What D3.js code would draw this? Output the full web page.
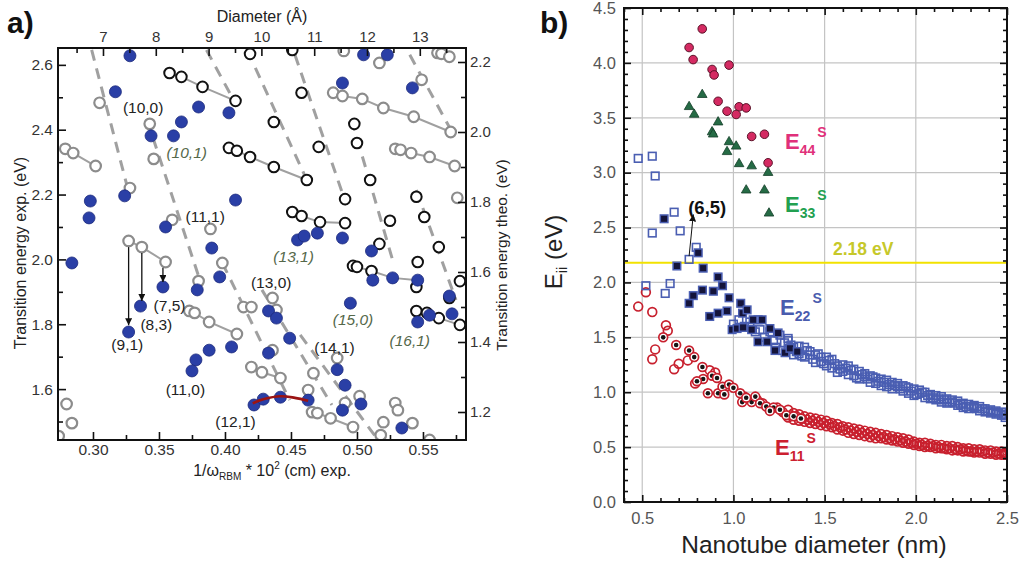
<!DOCTYPE html>
<html><head><meta charset="utf-8">
<script src="https://cdn.jsdelivr.net/npm/d3@7"></script>
<style>body{margin:0;background:#fff}</style>
</head><body><svg id="c" width="1022" height="565"></svg>
<script>
// ---------------- PANEL A DATA (x = 1/wRBM*1e2 cm, y = exp. energy eV) ----------------
const aXTicks = [0.30,0.35,0.40,0.45,0.50,0.55];
const aXMinor = [0.325,0.375,0.425,0.475,0.525,0.575];
const aYTicks = [1.6,1.8,2.0,2.2,2.4,2.6];
const aYMinor = [1.5,1.7,1.9,2.1,2.3,2.5];
const aTheoTicks = [1.2,1.4,1.6,1.8,2.0,2.2];
const aTheoMinor = [1.3,1.5,1.7,1.9,2.1];
const aDiamTicks = [7,8,9,10,11,12,13];
const aDiamMinor = [6.5,7.5,8.5,9.5,10.5,11.5,12.5,13.5];

const aBlue = [[0.328,2.628],[0.317,2.517],[0.380,2.470],[0.367,2.424],[0.344,2.381],[0.361,2.381],[0.403,2.452],[0.298,2.180],[0.297,2.128],[0.324,2.196],[0.408,2.183],[0.355,2.100],[0.390,2.035],[0.505,2.631],[0.523,2.631],[0.489,2.544],[0.542,2.529],[0.455,2.060],[0.460,2.072],[0.470,2.081],[0.489,2.066],[0.511,2.026],[0.284,1.989],[0.327,1.776],[0.336,1.856],[0.353,1.915],[0.379,1.906],[0.396,1.946],[0.378,1.690],[0.375,1.656],[0.388,1.720],[0.405,1.730],[0.422,1.551],[0.512,1.936],[0.527,1.943],[0.546,1.936],[0.495,1.865],[0.433,1.841],[0.439,1.819],[0.449,1.757],[0.433,1.711],[0.485,1.660],[0.491,1.612],[0.489,1.535],[0.503,1.554],[0.546,1.807],[0.555,1.828],[0.570,1.887],[0.572,1.832],[0.534,1.480],[0.429,1.569],[0.442,1.575],[0.463,1.566]];
const aGray = [[0.305,2.483],[0.279,2.341],[0.285,2.328],[0.302,2.288],[0.343,2.418],[0.346,2.310],[0.328,2.220],[0.360,2.122],[0.389,2.094],[0.327,2.057],[0.337,2.038],[0.490,2.643],[0.517,2.606],[0.561,2.637],[0.564,2.634],[0.570,2.625],[0.549,2.554],[0.482,2.514],[0.489,2.504],[0.504,2.495],[0.520,2.467],[0.543,2.440],[0.571,2.393],[0.529,2.341],[0.533,2.338],[0.541,2.328],[0.555,2.316],[0.574,2.288],[0.576,2.190],[0.355,1.992],[0.380,1.933],[0.398,1.989],[0.414,1.853],[0.373,1.841],[0.377,1.835],[0.388,1.807],[0.409,1.770],[0.420,1.668],[0.428,1.652],[0.280,1.554],[0.284,1.495],[0.274,1.455],[0.436,1.881],[0.439,1.844],[0.420,1.853],[0.436,1.720],[0.442,1.634],[0.467,1.649],[0.485,1.696],[0.463,1.597],[0.466,1.529],[0.470,1.526],[0.480,1.510],[0.497,1.483],[0.491,1.557],[0.502,1.578],[0.529,1.557],[0.531,1.535],[0.520,1.498],[0.542,1.495],[0.518,1.458],[0.555,1.443]];
const aBlack = [[0.419,2.634],[0.358,2.575],[0.367,2.563],[0.383,2.532],[0.408,2.489],[0.403,2.344],[0.409,2.335],[0.419,2.316],[0.451,2.646],[0.458,2.514],[0.437,2.424],[0.498,2.418],[0.500,2.359],[0.471,2.347],[0.437,2.285],[0.462,2.245],[0.510,2.245],[0.491,2.186],[0.545,2.193],[0.451,2.146],[0.458,2.134],[0.472,2.115],[0.491,2.112],[0.525,2.119],[0.551,2.131],[0.517,2.048],[0.562,2.038],[0.497,1.980],[0.500,1.977],[0.511,1.964],[0.546,1.992],[0.545,1.915],[0.578,1.933],[0.545,1.841],[0.553,1.835],[0.562,1.819],[0.570,1.881],[0.578,1.798]];
const aDashed = [
  [[0.299,2.646],[0.327,2.208]],
  [[0.341,2.430],[0.381,1.936]],
  [[0.386,2.646],[0.408,2.480]],
  [[0.423,2.591],[0.462,2.245]],
  [[0.453,2.631],[0.492,2.168]],
  [[0.496,2.430],[0.527,1.998]],
  [[0.540,2.631],[0.572,2.393]],
  [[0.545,2.214],[0.575,1.875]],
  [[0.398,1.989],[0.449,1.566]],
  [[0.428,1.906],[0.481,1.551]],
  [[0.457,1.767],[0.516,1.443]]
];
const aChains = [
  [[0.279,2.341],[0.285,2.328],[0.302,2.288]],
  [[0.327,2.057],[0.337,2.038],[0.355,1.992]],
  [[0.373,1.841],[0.377,1.835],[0.388,1.807],[0.409,1.770]],
  [[0.403,2.344],[0.409,2.335],[0.419,2.316],[0.437,2.285],[0.462,2.245]],
  [[0.358,2.575],[0.367,2.563],[0.383,2.532],[0.408,2.489]],
  [[0.482,2.514],[0.489,2.504],[0.504,2.495],[0.520,2.467],[0.543,2.440],[0.571,2.393]],
  [[0.529,2.341],[0.533,2.338],[0.541,2.328],[0.555,2.316],[0.574,2.288]],
  [[0.451,2.146],[0.458,2.134],[0.472,2.115],[0.491,2.112]],
  [[0.497,1.980],[0.500,1.977],[0.511,1.964],[0.527,1.943],[0.546,1.936]],
  [[0.545,1.841],[0.553,1.835],[0.562,1.819],[0.578,1.798]],
  [[0.420,1.668],[0.428,1.652],[0.442,1.634]],
  [[0.466,1.529],[0.470,1.526],[0.480,1.510],[0.497,1.483]],
  [[0.561,2.637],[0.564,2.634],[0.570,2.625]]
];
const aRedLine = [[0.421,1.556],[0.429,1.569],[0.442,1.578],[0.453,1.573],[0.463,1.564]];
const aArrows = [
  [[0.327,2.038],[0.327,1.797]],
  [[0.337,2.020],[0.337,1.872]],
  [[0.353,1.974],[0.353,1.930]]
];
const aLabels = [
  {t:"(10,0)",x:0.338,y:2.467,it:false},
  {t:"(10,1)",x:0.371,y:2.328,it:true},
  {t:"(11,1)",x:0.385,y:2.131,it:false},
  {t:"(7,5)",x:0.358,y:1.859,it:false},
  {t:"(8,3)",x:0.348,y:1.798,it:false},
  {t:"(9,1)",x:0.326,y:1.736,it:false},
  {t:"(11,0)",x:0.370,y:1.597,it:false},
  {t:"(12,1)",x:0.408,y:1.501,it:false},
  {t:"(13,0)",x:0.435,y:1.927,it:false},
  {t:"(13,1)",x:0.452,y:2.010,it:true},
  {t:"(14,1)",x:0.483,y:1.727,it:false},
  {t:"(15,0)",x:0.497,y:1.813,it:true},
  {t:"(16,1)",x:0.540,y:1.751,it:true}
];

// ---------------- PANEL B DATA (x = diameter nm, y = Eii eV) ----------------
const bXTicks = [0.5,1.0,1.5,2.0,2.5];
const bYTicks = [0.0,0.5,1.0,1.5,2.0,2.5,3.0,3.5,4.0,4.5];
const bGridX = [0.5,1.0,1.5,2.0];
const bGridY = [0.5,1.0,1.5,2.0,2.5,3.0,3.5,4.0];
const bLaserLine = 2.18;

const bE44 = [[0.757,4.14],[0.829,4.31],[0.779,4.03],[0.883,3.94],[0.894,3.89],[0.976,3.98],[0.916,3.65],[0.965,3.56],[1.031,3.60],[1.07,3.59],[1.015,3.53],[1.10,3.33],[1.17,3.35],[1.19,3.09]];
const bE33 = [[0.757,3.60],[0.785,3.53],[0.829,3.71],[0.883,3.37],[0.889,3.35],[0.916,3.46],[0.976,3.28],[0.965,3.19],[1.015,3.24],[1.031,3.08],[1.10,3.06],[1.07,2.84],[1.17,2.84],[1.19,3.00],[1.195,2.63]];
const bE22Exp = [[0.62,2.58],[0.807,2.27],[0.69,2.15],[0.834,2.13],[0.757,1.81],[0.78,1.88],[0.83,1.93],[0.916,2.05],[0.94,1.97],[0.89,1.92],[0.976,1.86],[1.04,1.81],[1.05,1.72],[1.075,1.75],[0.87,1.69],[0.916,1.72],[0.965,1.74],[0.993,1.57],[1.02,1.58],[1.053,1.59],[1.10,1.57],[1.108,1.66],[1.157,1.66],[1.135,1.46],[1.185,1.46],[1.20,1.58],[1.245,1.54],[1.228,1.38],[1.283,1.36],[1.31,1.40],[1.35,1.37]];
const bE22Open = [[0.478,3.13],[0.555,3.15],[0.571,2.97],[0.675,2.64],[0.555,2.45],[0.708,2.47],[0.796,2.32],[0.757,2.21],[0.52,1.97],[0.626,1.90],[0.653,1.99],
  [1.00,1.62],[1.03,1.66],[1.06,1.60],[1.09,1.64],[1.12,1.55],[1.146,1.57],[1.135,1.66],[1.17,1.50],[1.20,1.55],[1.22,1.47],[1.23,1.41],[1.255,1.52],[1.27,1.38],[1.28,1.45],[1.30,1.49],
  [1.30,1.47],[1.30,1.39],[1.33,1.41],[1.33,1.34],[1.36,1.42],[1.36,1.35],[1.39,1.41],[1.39,1.32],[1.42,1.34],[1.42,1.37],[1.45,1.27],[1.45,1.34],[1.48,1.32],[1.48,1.28],[1.51,1.24],[1.51,1.32],[1.54,1.30],[1.54,1.22],[1.57,1.24],[1.57,1.18],[1.60,1.25],[1.60,1.19],[1.63,1.16],[1.63,1.24],[1.66,1.21],[1.66,1.15],[1.69,1.19],[1.69,1.12],[1.72,1.14],[1.72,1.17],[1.75,1.09],[1.75,1.15],[1.78,1.13],[1.78,1.08],[1.81,1.06],[1.81,1.12],[1.84,1.11],[1.84,1.05],[1.87,1.09],[1.87,1.03],[1.90,1.05],[1.90,1.08],[1.93,1.01],[1.93,1.06],[1.96,1.04],[1.96,0.99],[1.99,1.03],[1.99,0.97],[2.02,0.99],[2.02,1.02],[2.05,0.95],[2.05,1.00],[2.08,0.98],[2.08,0.94],[2.11,0.93],[2.11,0.97],[2.14,0.96],[2.14,0.91],[2.17,0.94],[2.17,0.90],[2.20,0.91],[2.20,0.93],[2.23,0.88],[2.23,0.92],[2.26,0.90],[2.26,0.86],[2.29,0.89],[2.29,0.85],[2.32,0.86],[2.32,0.88],[2.35,0.83],[2.35,0.87],[2.38,0.85],[2.38,0.82],[2.41,0.81],[2.41,0.84],[2.44,0.83],[2.44,0.80],[2.47,0.79],[2.47,0.82],[2.49,0.80],[2.49,0.77],
  [1.315,1.43],[1.345,1.37],[1.375,1.33],[1.405,1.38],[1.435,1.30],[1.465,1.35],[1.495,1.26],[1.525,1.29],[1.555,1.26],[1.585,1.21],[1.615,1.22],[1.645,1.20],[1.675,1.13],[1.705,1.16],[1.735,1.12],[1.765,1.14],[1.795,1.10],[1.825,1.09],[1.855,1.07],[1.885,1.06],[1.915,1.03],[1.945,1.05],[1.975,1.01],[2.005,0.98],[2.035,1.00],[2.065,0.97],[2.095,0.95],[2.125,0.94],[2.155,0.93],[2.185,0.91],[2.215,0.90],[2.245,0.89],[2.275,0.87],[2.305,0.87],[2.335,0.85],[2.365,0.85],[2.395,0.83],[2.425,0.82],[2.455,0.81],[2.485,0.79]];
const bE11Exp = [[0.615,1.50],[0.686,1.43],[0.757,1.38],[0.785,1.32],[0.83,1.23],[0.834,1.12],[0.883,1.15],[0.91,1.13],[0.86,0.99],[0.916,0.99],[0.94,1.05],[0.976,1.07],[1.0,1.04],[1.037,0.99],[1.048,0.91],[1.10,0.91],[1.12,0.96],[1.146,0.90],[1.18,0.87],[1.22,0.86],[1.255,0.84],[1.29,0.79],[0.80,1.10],[0.95,0.98],[1.07,0.95],[1.20,0.83],[1.33,0.78],[1.37,0.76]];
const bE11Open = [[0.478,1.78],[0.52,1.91],[0.555,1.73],[0.571,1.39],[0.555,1.30],[0.63,1.61],[0.64,1.56],[0.675,1.21],[0.70,1.26],[0.75,1.29],[0.79,1.08],[0.87,1.20],[0.90,1.18],[0.96,1.05],[1.06,0.96],[1.13,0.93],[1.16,0.90],[1.24,0.86],[1.27,0.82],
  [1.30,0.84],[1.30,0.77],[1.33,0.81],[1.33,0.75],[1.36,0.80],[1.36,0.74],[1.39,0.78],[1.39,0.73],[1.42,0.77],[1.42,0.72],[1.45,0.76],[1.45,0.71],[1.48,0.75],[1.48,0.70],[1.51,0.74],[1.51,0.69],[1.54,0.72],[1.54,0.68],[1.57,0.71],[1.57,0.66],[1.60,0.69],[1.60,0.65],[1.63,0.68],[1.63,0.63],[1.66,0.67],[1.66,0.62],[1.69,0.66],[1.69,0.61],[1.72,0.65],[1.72,0.60],[1.75,0.64],[1.75,0.59],[1.78,0.63],[1.78,0.58],[1.81,0.62],[1.81,0.58],[1.84,0.61],[1.84,0.57],[1.87,0.60],[1.87,0.56],[1.90,0.59],[1.90,0.55],[1.93,0.58],[1.93,0.54],[1.96,0.57],[1.96,0.53],[1.99,0.55],[1.99,0.52],[2.02,0.54],[2.02,0.51],[2.05,0.54],[2.05,0.50],[2.08,0.53],[2.08,0.50],[2.11,0.52],[2.11,0.49],[2.14,0.52],[2.14,0.49],[2.17,0.51],[2.17,0.48],[2.20,0.51],[2.20,0.47],[2.23,0.50],[2.23,0.47],[2.26,0.49],[2.26,0.46],[2.29,0.49],[2.29,0.46],[2.32,0.48],[2.32,0.45],[2.35,0.48],[2.35,0.45],[2.38,0.47],[2.38,0.44],[2.41,0.47],[2.41,0.44],[2.44,0.46],[2.44,0.43],[2.47,0.46],[2.47,0.43],[2.49,0.45],[2.49,0.43],
  [1.315,0.79],[1.345,0.78],[1.375,0.76],[1.405,0.75],[1.435,0.74],[1.465,0.73],[1.495,0.72],[1.525,0.71],[1.555,0.69],[1.585,0.68],[1.615,0.66],[1.645,0.65],[1.675,0.64],[1.705,0.63],[1.735,0.62],[1.765,0.61],[1.795,0.60],[1.825,0.59],[1.855,0.58],[1.885,0.57],[1.915,0.56],[1.945,0.55],[1.975,0.54],[2.005,0.53],[2.035,0.52],[2.065,0.51],[2.095,0.51],[2.125,0.50],[2.155,0.49],[2.185,0.49],[2.215,0.48],[2.245,0.48],[2.275,0.47],[2.305,0.46],[2.335,0.46],[2.365,0.46],[2.395,0.45],[2.425,0.45],[2.455,0.44],[2.485,0.44]];
const bArrow = [[0.757,2.24],[0.78,2.62]];

// ---------------- DRAW ----------------
const FONT = "Liberation Sans, Arial, Helvetica, sans-serif";
const svg = d3.select("#c");
svg.append("rect").attr("width",1022).attr("height",565).attr("fill","#fff");
const defs = svg.append("defs");
defs.append("clipPath").attr("id","clipA").append("rect").attr("x",58).attr("y",48).attr("width",408).attr("height",392);
defs.append("clipPath").attr("id","clipB").append("rect").attr("x",624).attr("y",8).attr("width",383).attr("height",494);
defs.append("marker").attr("id","arr").attr("viewBox","0 0 10 10").attr("refX",10).attr("refY",5)
  .attr("markerWidth",7).attr("markerHeight",7).attr("markerUnits","userSpaceOnUse").attr("orient","auto")
  .append("path").attr("d","M0,0 L10,5 L0,10 z").attr("fill","#111");

// ===== Panel A =====
const xa = d3.scaleLinear().domain([0.2735,0.5826]).range([58,466]);
const ya = d3.scaleLinear().domain([1.443,2.652]).range([440,48]);
const yTheo = d3.scaleLinear().domain([1.12,2.24]).range([440,48]);
const xDiam = d3.scaleLinear().domain([6.148,13.875]).range([58,466]);

const ga = svg.append("g");
const pa = ga.append("g").attr("clip-path","url(#clipA)");
pa.selectAll(".dl").data(aDashed).join("line")
  .attr("x1",d=>xa(d[0][0])).attr("y1",d=>ya(d[0][1])).attr("x2",d=>xa(d[1][0])).attr("y2",d=>ya(d[1][1]))
  .attr("stroke","#a0a0a0").attr("stroke-width",3).attr("stroke-dasharray","11,8");
const lineA = d3.line().x(d=>xa(d[0])).y(d=>ya(d[1]));
pa.selectAll(".ch").data(aChains).join("path").attr("d",lineA).attr("fill","none").attr("stroke","#a0a0a0").attr("stroke-width",2);
pa.selectAll(".gc").data(aGray).join("circle").attr("cx",d=>xa(d[0])).attr("cy",d=>ya(d[1])).attr("r",5.3)
  .attr("fill","#fff").attr("stroke","#8c8c8c").attr("stroke-width",2.2);
pa.selectAll(".bc").data(aBlack).join("circle").attr("cx",d=>xa(d[0])).attr("cy",d=>ya(d[1])).attr("r",5.3)
  .attr("fill","#fff").attr("stroke","#111").attr("stroke-width",2);
pa.selectAll(".bl").data(aBlue).join("circle").attr("cx",d=>xa(d[0])).attr("cy",d=>ya(d[1])).attr("r",6)
  .attr("fill","#2a3fa6").attr("stroke","#1c2a7c").attr("stroke-width",0.8);
pa.append("path").datum(aRedLine).attr("d",d3.line().x(d=>xa(d[0])).y(d=>ya(d[1])).curve(d3.curveCardinal))
  .attr("fill","none").attr("stroke","#9b1414").attr("stroke-width",2.6);
ga.selectAll(".ar").data(aArrows).join("line")
  .attr("x1",d=>xa(d[0][0])).attr("y1",d=>ya(d[0][1])).attr("x2",d=>xa(d[1][0])).attr("y2",d=>ya(d[1][1]))
  .attr("stroke","#111").attr("stroke-width",1.3).attr("marker-end","url(#arr)");
ga.selectAll(".lb").data(aLabels).join("text").attr("x",d=>xa(d.x)).attr("y",d=>ya(d.y)).attr("dy","0.35em")
  .attr("text-anchor","middle").attr("font-family",FONT).attr("font-size",15.5)
  .attr("font-style",d=>d.it?"italic":"normal").attr("fill",d=>d.it?"#55684a":"#222").text(d=>d.t);

function styleAx(g, fs, col){
  g.select(".domain").remove();
  g.selectAll(".tick line").attr("stroke","#111").attr("stroke-width",1.6);
  g.selectAll("text").attr("font-family",FONT).attr("font-size",fs).attr("fill",col);
}
const fmt1 = d3.format(".1f"), fmt2 = d3.format(".2f");
ga.append("g").attr("transform","translate(58,0)").call(d3.axisLeft(ya).tickValues(aYTicks).tickSize(-8).tickPadding(5).tickFormat(fmt1)).call(g=>styleAx(g,15.5,"#333"));
ga.append("g").attr("transform","translate(58,0)").call(d3.axisLeft(ya).tickValues(aYMinor).tickSize(-5).tickFormat("")).call(g=>styleAx(g,15,"#333"));
ga.append("g").attr("transform","translate(466,0)").call(d3.axisRight(yTheo).tickValues(aTheoTicks).tickSize(-8).tickPadding(4).tickFormat(fmt1)).call(g=>styleAx(g,15,"#333"));
ga.append("g").attr("transform","translate(466,0)").call(d3.axisRight(yTheo).tickValues(aTheoMinor).tickSize(-5).tickFormat("")).call(g=>styleAx(g,15,"#333"));
ga.append("g").attr("transform","translate(0,440)").call(d3.axisBottom(xa).tickValues(aXTicks).tickSize(-8).tickPadding(4).tickFormat(fmt2)).call(g=>styleAx(g,15.5,"#333"));
ga.append("g").attr("transform","translate(0,440)").call(d3.axisBottom(xa).tickValues(aXMinor).tickSize(-5).tickFormat("")).call(g=>styleAx(g,15,"#333"));
ga.append("g").attr("transform","translate(0,48)").call(d3.axisTop(xDiam).tickValues(aDiamTicks).tickSize(-8).tickPadding(6).tickFormat(d3.format("d"))).call(g=>styleAx(g,15,"#333"));
ga.append("g").attr("transform","translate(0,48)").call(d3.axisTop(xDiam).tickValues(aDiamMinor).tickSize(-5).tickFormat("")).call(g=>styleAx(g,15,"#333"));
ga.append("rect").attr("x",58).attr("y",48).attr("width",408).attr("height",392).attr("fill","none").attr("stroke","#111").attr("stroke-width",2);

ga.append("text").attr("x",262).attr("y",22).attr("text-anchor","middle").attr("font-family",FONT).attr("font-size",16).attr("fill","#222").text("Diameter (Å)");
const bt = ga.append("text").attr("x",272).attr("y",476).attr("text-anchor","middle").attr("font-family",FONT).attr("font-size",16).attr("fill","#222");
bt.append("tspan").text("1/ω");
bt.append("tspan").attr("font-size",10).attr("dy",4).text("RBM");
bt.append("tspan").attr("dy",-4).text(" * 10");
bt.append("tspan").attr("font-size",10).attr("dy",-7).text("2");
bt.append("tspan").attr("dy",7).text(" (cm) exp.");
ga.append("text").attr("transform","translate(26,253) rotate(-90)").attr("text-anchor","middle").attr("font-family",FONT).attr("font-size",16).attr("fill","#222").text("Transition energy exp. (eV)");
ga.append("text").attr("transform","translate(507,255) rotate(-90)").attr("text-anchor","middle").attr("font-family",FONT).attr("font-size",15.5).attr("fill","#222").text("Transition energy theo. (eV)");
ga.append("text").attr("x",7).attr("y",33).attr("font-family",FONT).attr("font-size",30).attr("font-weight","bold").attr("fill","#111").text("a)");

// ===== Panel B =====
const xb = d3.scaleLinear().domain([0.4,2.5]).range([624,1007]);
const yb = d3.scaleLinear().domain([0,4.5]).range([502,8]);
const gb = svg.append("g");
gb.selectAll(".gx").data(bGridX).join("line").attr("x1",d=>xb(d)).attr("x2",d=>xb(d)).attr("y1",8).attr("y2",502).attr("stroke","#c4c4c4").attr("stroke-width",1.2);
gb.selectAll(".gy").data(bGridY).join("line").attr("y1",d=>yb(d)).attr("y2",d=>yb(d)).attr("x1",624).attr("x2",1007).attr("stroke","#c4c4c4").attr("stroke-width",1.2);
gb.append("line").attr("x1",624).attr("x2",1007).attr("y1",yb(bLaserLine)).attr("y2",yb(bLaserLine)).attr("stroke","#f2e200").attr("stroke-width",2);
const pb = gb.append("g").attr("clip-path","url(#clipB)");
pb.selectAll(".e11o").data(bE11Open).join("circle").attr("cx",d=>xb(d[0])).attr("cy",d=>yb(d[1])).attr("r",4.4)
  .attr("fill","none").attr("stroke","#c8202e").attr("stroke-width",1.7);
const e11e = pb.selectAll(".e11e").data(bE11Exp).join("g").attr("transform",d=>`translate(${xb(d[0])},${yb(d[1])})`);
e11e.append("circle").attr("r",4.4).attr("fill","#fff").attr("stroke","#c8202e").attr("stroke-width",1.7);
e11e.append("circle").attr("r",2.3).attr("fill","#151515");
pb.selectAll(".e22o").data(bE22Open).join("rect").attr("x",d=>xb(d[0])-3.8).attr("y",d=>yb(d[1])-3.8).attr("width",7.6).attr("height",7.6)
  .attr("fill","none").attr("stroke","#4a5eb2").attr("stroke-width",1.6);
pb.selectAll(".e22e").data(bE22Exp).join("rect").attr("x",d=>xb(d[0])-3.8).attr("y",d=>yb(d[1])-3.8).attr("width",7.6).attr("height",7.6)
  .attr("fill","#14143a").attr("stroke","#4a5eb2").attr("stroke-width",1.5);
pb.selectAll(".e33").data(bE33).join("path").attr("d",d3.symbol(d3.symbolTriangle,40)).attr("transform",d=>`translate(${xb(d[0])},${yb(d[1])})`)
  .attr("fill","#256b45").attr("stroke","#143d28").attr("stroke-width",0.8);
pb.selectAll(".e44").data(bE44).join("circle").attr("cx",d=>xb(d[0])).attr("cy",d=>yb(d[1])).attr("r",4.3)
  .attr("fill","#d42a62").attr("stroke","#5a1228").attr("stroke-width",1);
gb.append("line").datum(bArrow).attr("x1",d=>xb(d[0][0])).attr("y1",d=>yb(d[0][1])).attr("x2",d=>xb(d[1][0])).attr("y2",d=>yb(d[1][1]))
  .attr("stroke","#111").attr("stroke-width",1).attr("marker-end","url(#arr)");

const bXMinor = d3.range(4,26).map(v=>v/10).filter(v=>Math.abs(v*2-Math.round(v*2))>1e-6);
const bYMinor = d3.range(0,46).map(v=>v/10).filter(v=>Math.abs(v*2-Math.round(v*2))>1e-6);
gb.append("g").attr("transform","translate(624,0)").call(d3.axisLeft(yb).tickValues(bYTicks).tickSize(-7).tickPadding(8).tickFormat(fmt1)).call(g=>styleAx(g,16.5,"#555"));
gb.append("g").attr("transform","translate(624,0)").call(d3.axisLeft(yb).tickValues(bYMinor).tickSize(-4).tickFormat("")).call(g=>styleAx(g,15,"#555"));
gb.append("g").attr("transform","translate(1007,0)").call(d3.axisRight(yb).tickValues(bYTicks).tickSize(-7).tickFormat("")).call(g=>styleAx(g,15,"#555"));
gb.append("g").attr("transform","translate(1007,0)").call(d3.axisRight(yb).tickValues(bYMinor).tickSize(-4).tickFormat("")).call(g=>styleAx(g,15,"#555"));
gb.append("g").attr("transform","translate(0,502)").call(d3.axisBottom(xb).tickValues(bXTicks).tickSize(-7).tickPadding(10).tickFormat(fmt1)).call(g=>styleAx(g,16.5,"#555"));
gb.append("g").attr("transform","translate(0,502)").call(d3.axisBottom(xb).tickValues(bXMinor).tickSize(-4).tickFormat("")).call(g=>styleAx(g,15,"#555"));
gb.append("g").attr("transform","translate(0,8)").call(d3.axisTop(xb).tickValues(bXTicks).tickSize(-7).tickFormat("")).call(g=>styleAx(g,15,"#555"));
gb.append("g").attr("transform","translate(0,8)").call(d3.axisTop(xb).tickValues(bXMinor).tickSize(-4).tickFormat("")).call(g=>styleAx(g,15,"#555"));
gb.append("rect").attr("x",624).attr("y",8).attr("width",383).attr("height",494).attr("fill","none").attr("stroke","#111").attr("stroke-width",2);

function eLabel(x,y,sub,col){
  const t = gb.append("text").attr("x",xb(x)).attr("y",yb(y)).attr("font-family",FONT).attr("font-size",22).attr("font-weight","600").attr("fill",col);
  t.append("tspan").text("E");
  t.append("tspan").attr("font-size",14).attr("dy",6).text(sub);
  t.append("tspan").attr("font-size",14).attr("dy",-18).attr("dx",2).text("S");
}
eLabel(1.283,3.22,"44","#e0307a");
eLabel(1.283,2.64,"33","#22a050");
eLabel(1.256,1.70,"22","#4a5cae");
eLabel(1.228,0.43,"11","#cc2030");
gb.append("text").attr("x",xb(1.546)).attr("y",yb(2.25)).attr("font-family",FONT).attr("font-size",17.5).attr("font-weight","bold").attr("fill","#c6c82a").text("2.18 eV");
gb.append("text").attr("x",xb(0.752)).attr("y",yb(2.62)).attr("font-family",FONT).attr("font-size",18.5).attr("font-weight","bold").attr("fill","#111").text("(6,5)");
gb.append("text").attr("x",814).attr("y",553).attr("text-anchor","middle").attr("font-family",FONT).attr("font-size",24.5).attr("fill","#222").text("Nanotube diameter  (nm)");
const yt = gb.append("text").attr("transform","translate(562,252) rotate(-90)").attr("text-anchor","middle").attr("font-family",FONT).attr("font-size",24).attr("fill","#222");
yt.append("tspan").text("E");
yt.append("tspan").attr("font-size",15).attr("dy",5).text("ii");
yt.append("tspan").attr("dy",-5).text(" (eV)");
gb.append("text").attr("x",540).attr("y",33).attr("font-family",FONT).attr("font-size",30).attr("font-weight","bold").attr("fill","#111").text("b)");
</script></body></html>
